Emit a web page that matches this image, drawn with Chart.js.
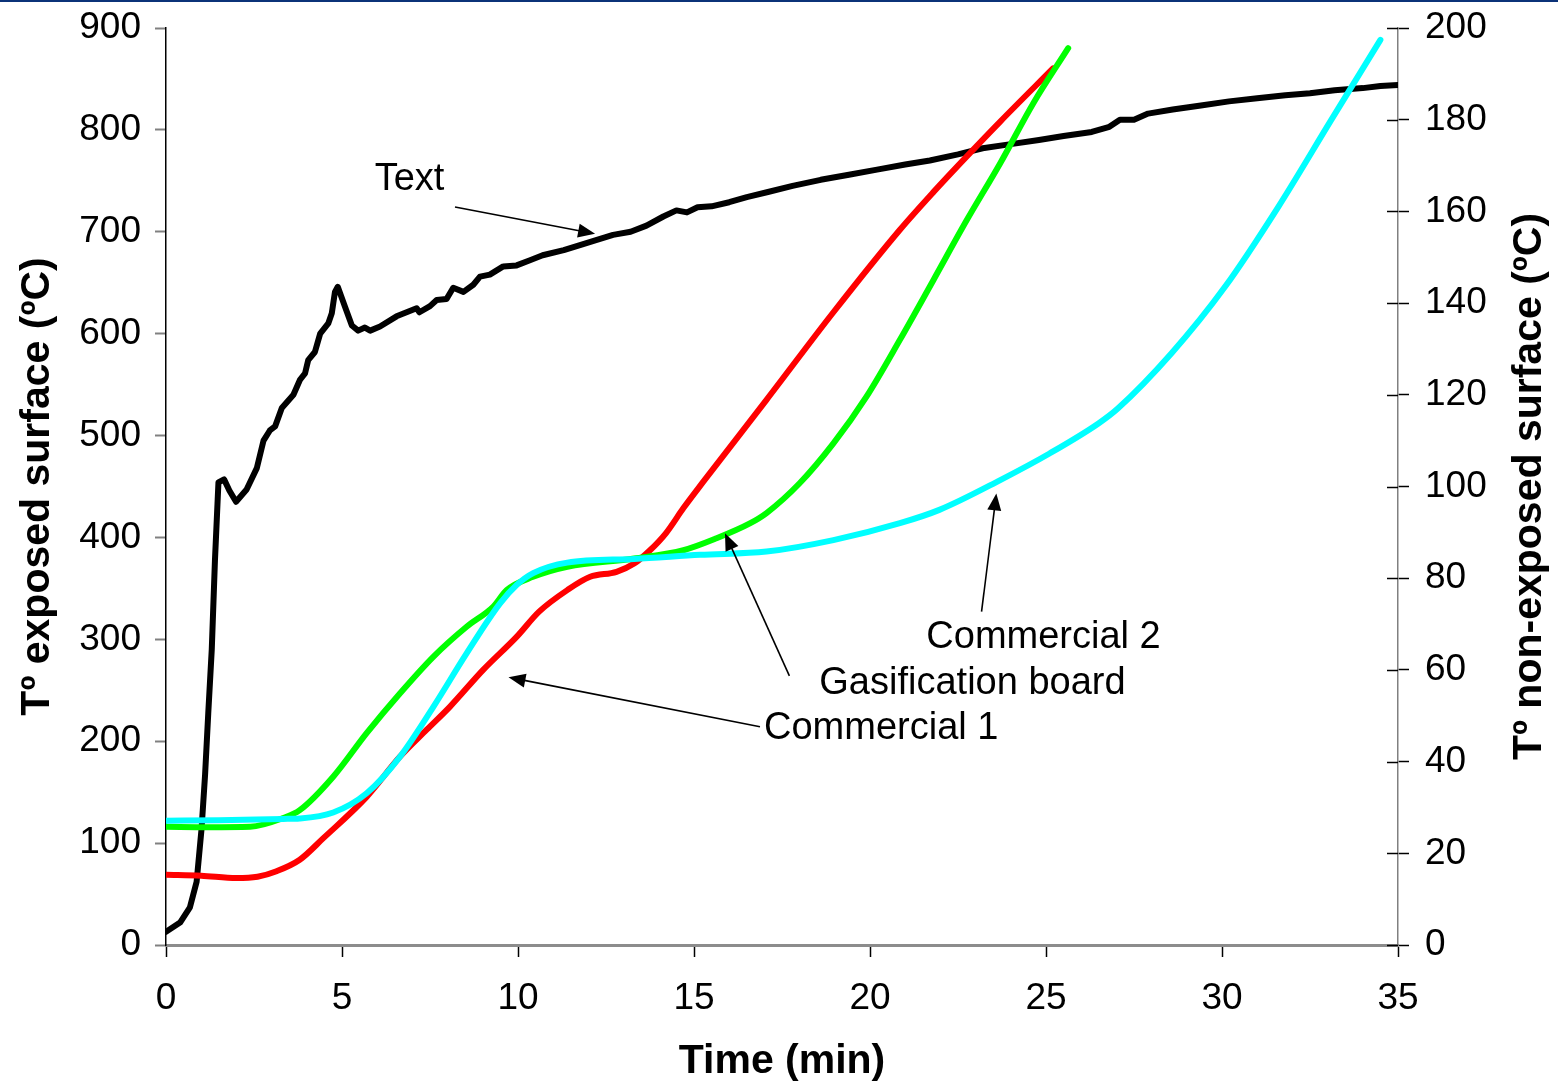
<!DOCTYPE html>
<html><head><meta charset="utf-8">
<script src="https://cdn.jsdelivr.net/npm/chart.js@4.4.0/dist/chart.umd.min.js"></script>
<style>html,body{margin:0;padding:0;background:#fff;overflow:hidden}</style>
</head><body>
<canvas id="c" width="1558" height="1085"></canvas>
<script>
const FONT = "'Liberation Sans', Arial, Helvetica, sans-serif";

// x tick labels (min)
const timeTicks = [0, 5, 10, 15, 20, 25, 30, 35];

// Exposed surface ("Text"), left axis, ºC
const exposedTime = [0,0.4,0.68,0.87,1.01,1.11,1.2,1.3,1.39,1.49,1.65,1.8,1.99,2.29,2.58,2.77,2.95,3.1,3.29,3.62,3.81,3.95,4.04,4.23,4.38,4.61,4.71,4.8,4.88,5.09,5.28,5.46,5.65,5.8,6.08,6.55,7.12,7.2,7.5,7.69,7.97,8.16,8.45,8.73,8.92,9.2,9.58,9.96,10.34,10.7,11.3,11.76,12.24,12.7,13.2,13.65,14.13,14.5,14.8,15.1,15.5,16,16.5,17.1,17.8,18.6,19.4,20.2,21,21.7,22.5,23.2,24,24.8,25.5,26.3,26.8,27.1,27.5,27.9,28.6,29.4,30.2,31,31.8,32.5,33.2,34,34.5,35];
const exposedTemp = [13,22,37,62,114,167,227,290,377,454,457,446,435,447,468,495,505,509,527,540,555,561,574,582,600,610,620,641,646,626,608,603,606,603,607,617,625,621,627,633,634,645,641,648,656,658,666,667,672,677,682,687,692,697,700,706,715,721,719,724,725,729,734,739,745,751,756,761,766,770,776,782,786,790,794,798,803,810,810,816,820,824,828,831,834,836,839,841,843,844];

// Commercial 1 (red), right axis, ºC
const commercial1Time = [0,1,2,2.6,3.14,3.8,4.47,5.7,6.65,7.4,8.07,9.01,9.96,10.6,11.4,12.05,12.8,13.3,13.75,14.2,14.7,15.26,17.06,18.96,20.85,21.8,22.75,23.7,25.2];
const commercial1Temp = [15.3,15.1,14.6,14.9,16.1,18.6,23.3,32.3,41.1,46.9,52.0,60.0,67.2,72.7,77.4,80.3,81.4,83.2,86.1,89.8,95.3,101.0,118.9,138.0,156.0,164.2,172.0,179.6,191.2];

// Gasification board (green), right axis, ºC
const gasificationTime = [0,1.2,2.39,3.33,3.8,4.75,5.7,6.65,7.6,8.54,9.3,9.68,10.43,11.4,13.3,14.7,15.64,16.6,17.06,18.0,18.96,19.9,20.85,21.8,22.75,23.7,24.64,25.63];
const gasificationTemp = [25.8,25.7,25.8,27.7,29.4,36.7,46.2,54.9,62.9,69.4,73.8,77.4,80.3,82.5,84.3,86.1,88.7,92.0,94.2,100.7,109.4,119.6,132.0,145.0,158.1,170.5,183.6,195.6];

// Commercial 2 (cyan), right axis, ºC
const commercial2Time = [0,1.5,3.33,3.8,4.75,5.7,6.65,7.6,8.54,9.49,9.96,10.43,11.4,13.3,15.17,17.06,18.96,20.85,21.97,23.7,25.1,26.5,27.04,28.56,30.09,31.6,33.1,34.5];
const commercial2Temp = [27.1,27.2,27.5,27.6,28.9,33.1,41.1,52.0,63.6,74.5,78.5,81.1,83.4,84.2,85.1,85.8,88.3,92.0,94.9,101.4,107.2,113.8,117.0,129.0,143.6,161.0,179.9,197.4];

const pts = (xs, ys) => xs.map((x, i) => ({x, y: ys[i]}));

// Callouts (data coordinates)
const callouts = [
  {text:'Text', axis:'y', tx:5.93, ty:751, from:[8.21,724.3], to:[12.19,698.0]},
  {text:'Commercial 2', axis:'y2', tx:21.6, ty:67.1, from:[23.17,72.7], to:[23.59,98.5]},
  {text:'Gasification board', axis:'y2', tx:18.56, ty:57.1, from:[17.71,58.7], to:[15.88,89.8]},
  {text:'Commercial 1', axis:'y2', tx:16.99, ty:47.2, from:[16.875,47.6], to:[9.73,58.4]}
];

function arrow(ctx, x1, y1, x2, y2) {
  const a = Math.atan2(y2 - y1, x2 - x1), L = 17, W = 7;
  ctx.beginPath();
  ctx.moveTo(x1, y1);
  ctx.lineTo(x2 - Math.cos(a) * L * 0.8, y2 - Math.sin(a) * L * 0.8);
  ctx.stroke();
  ctx.beginPath();
  ctx.moveTo(x2, y2);
  ctx.lineTo(x2 - L * Math.cos(a) + W * Math.sin(a), y2 - L * Math.sin(a) - W * Math.cos(a));
  ctx.lineTo(x2 - L * Math.cos(a) - W * Math.sin(a), y2 - L * Math.sin(a) + W * Math.cos(a));
  ctx.closePath();
  ctx.fill();
}

const decor = {
  id: 'decor',
  beforeDraw(chart) {
    const ctx = chart.ctx;
    ctx.save();
    ctx.fillStyle = '#fff';
    ctx.fillRect(0, 0, chart.width, chart.height);
    ctx.fillStyle = '#0b3278';
    ctx.fillRect(0, 0, chart.width, 2);
    ctx.restore();
  },
  afterDraw(chart) {
    const ctx = chart.ctx, sx = chart.scales.x, s2 = chart.scales.y2;
    ctx.save();
    // inner half of right-axis ticks
    ctx.strokeStyle = '#000'; ctx.lineWidth = 1.5;
    s2.ticks.forEach(t => {
      const y = Math.round(s2.getPixelForValue(t.value)) + 0.5;
      ctx.beginPath(); ctx.moveTo(s2.left - 11, y); ctx.lineTo(s2.left, y); ctx.stroke();
    });
    // callouts
    ctx.fillStyle = '#000'; ctx.strokeStyle = '#000'; ctx.lineWidth = 1.6;
    ctx.font = '38px ' + FONT;
    ctx.textAlign = 'left'; ctx.textBaseline = 'middle';
    callouts.forEach(c => {
      const sy = chart.scales[c.axis];
      ctx.fillText(c.text, sx.getPixelForValue(c.tx), sy.getPixelForValue(c.ty));
      arrow(ctx, sx.getPixelForValue(c.from[0]), sy.getPixelForValue(c.from[1]),
                 sx.getPixelForValue(c.to[0]), sy.getPixelForValue(c.to[1]));
    });
    // right axis title (reads bottom to top)
    ctx.font = 'bold 41px ' + FONT;
    ctx.textAlign = 'center';
    ctx.translate(1530, (chart.chartArea.top + chart.chartArea.bottom) / 2);
    ctx.rotate(-Math.PI / 2);
    ctx.fillText('Tº non-exposed surface (ºC)', 0, 0);
    ctx.restore();
  }
};

const tickFont = {family: FONT, size: 37};
const titleFont = {family: FONT, size: 41, weight: 'bold', lineHeight: 1.12};
const lineDs = (label, data, color, axis, order, smooth) => ({
  label, data, yAxisID: axis, borderColor: color, backgroundColor: color,
  borderWidth: 6, pointRadius: 0, fill: false, order,
  borderCapStyle: 'round', borderJoinStyle: 'round',
  cubicInterpolationMode: smooth ? 'monotone' : 'default', tension: 0
});

new Chart(document.getElementById('c'), {
  type: 'line',
  data: {
    datasets: [
      lineDs('Commercial 2', pts(commercial2Time, commercial2Temp), '#00FFFF', 'y2', 0, true),
      lineDs('Gasification board', pts(gasificationTime, gasificationTemp), '#00FF00', 'y2', 1, true),
      lineDs('Commercial 1', pts(commercial1Time, commercial1Temp), '#FF0000', 'y2', 2, true),
      lineDs('Text', pts(exposedTime, exposedTemp), '#000000', 'y', 3, false)
    ]
  },
  options: {
    responsive: false, animation: false, devicePixelRatio: 1,
    layout: {padding: {top: 28, left: 0, right: 0, bottom: 0}},
    plugins: {legend: {display: false}, tooltip: {enabled: false}},
    scales: {
      x: {
        type: 'linear', min: 0, max: 35,
        afterBuildTicks: s => { s.ticks = timeTicks.map(v => ({value: v})); },
        ticks: {font: tickFont, color: '#000', padding: 20, maxRotation: 0},
        grid: {drawOnChartArea: false, tickLength: 12, color: '#000', tickWidth: 1.5},
        border: {color: '#8c8c8c', width: 3},
        title: {display: true, text: 'Time (min)', font: titleFont, color: '#000', padding: {top: 0, bottom: 0}},
        afterFit: s => { s.height = 140; }
      },
      y: {
        position: 'left', min: 0, max: 900,
        ticks: {stepSize: 100, font: tickFont, color: '#000', padding: 14},
        grid: {drawOnChartArea: false, tickLength: 11, color: '#808080', tickWidth: 2},
        border: {color: '#000', width: 1.5},
        title: {display: true, text: 'Tº exposed surface (ºC)', font: titleFont, color: '#000', padding: {top: 15, bottom: 0}},
        afterFit: s => { s.width = 166; s.paddingTop = 0; s.paddingBottom = 0; }
      },
      y2: {
        position: 'right', min: 0, max: 200,
        ticks: {stepSize: 20, font: tickFont, color: '#000', padding: 16},
        grid: {drawOnChartArea: false, tickLength: 11, color: '#000', tickWidth: 1.5},
        border: {color: '#808080', width: 1.5},
        afterFit: s => { s.width = 160; s.paddingTop = 0; s.paddingBottom = 0; }
      }
    }
  },
  plugins: [decor]
});
</script>
</body></html>
